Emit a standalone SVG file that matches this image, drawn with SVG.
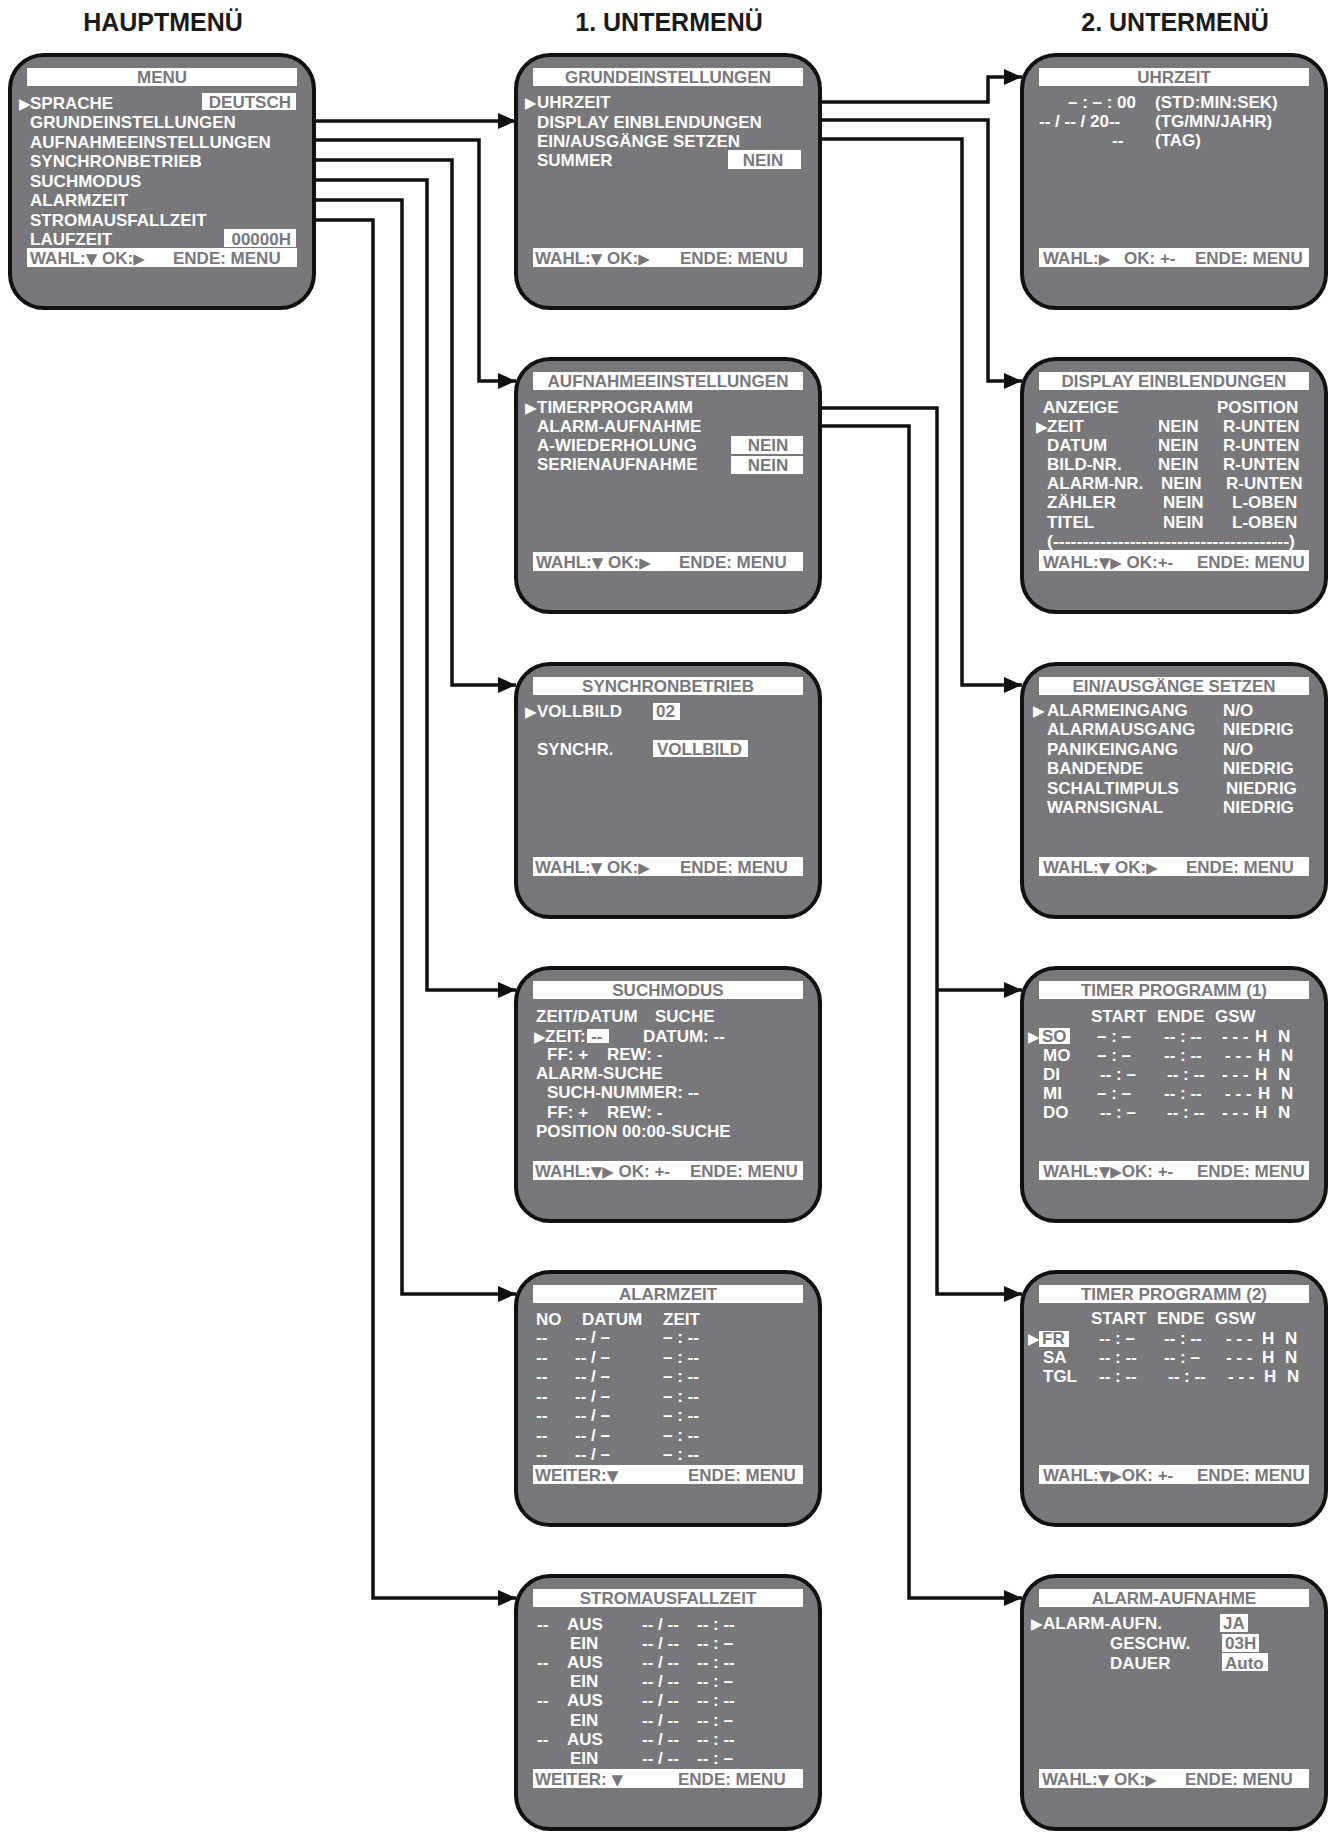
<svg xmlns="http://www.w3.org/2000/svg" width="1342" height="1840" viewBox="0 0 1342 1840">
<defs>
<style>
.box{fill:#78777c;stroke:#111;stroke-width:4}
.bar{fill:#fff}
.t{font-family:"Liberation Sans","DejaVu Sans",Arial,sans-serif;font-weight:bold;font-size:17px;fill:#fff}
.g{fill:#78777c}
.m{text-anchor:middle}
.e{text-anchor:end}
.sym{font-family:"DejaVu Sans",sans-serif;font-size:15px}
.h{font-family:"Liberation Sans",Arial,sans-serif;font-weight:bold;font-size:25px;fill:#1a1a1a;text-anchor:middle}
.c{fill:none;stroke:#111;stroke-width:3.5}
</style>
<marker id="ah" markerUnits="userSpaceOnUse" markerWidth="18" markerHeight="16" refX="18" refY="8" orient="auto">
<path d="M0,0 L18,8 L0,16 z" fill="#111"/>
</marker>
</defs>
<rect width="1342" height="1840" fill="#fff"/>

<g id="headings">
<text class="h" x="163" y="31">HAUPTMENÜ</text>
<text class="h" x="669" y="31">1. UNTERMENÜ</text>
<text class="h" x="1175" y="31">2. UNTERMENÜ</text>
</g>

<g id="connectors">
<path class="c" marker-end="url(#ah)" d="M314,121 H516"/>
<path class="c" marker-end="url(#ah)" d="M314,140 H479 V381 H516"/>
<path class="c" marker-end="url(#ah)" d="M314,160 H452 V685 H516"/>
<path class="c" marker-end="url(#ah)" d="M314,180 H427 V990 H516"/>
<path class="c" marker-end="url(#ah)" d="M314,200 H402 V1294 H516"/>
<path class="c" marker-end="url(#ah)" d="M314,220 H373 V1598 H516"/>
<path class="c" marker-end="url(#ah)" d="M820,102 H988 V77 H1022"/>
<path class="c" marker-end="url(#ah)" d="M820,120 H988 V381 H1022"/>
<path class="c" marker-end="url(#ah)" d="M820,139 H962 V685 H1022"/>
<path class="c" marker-end="url(#ah)" d="M820,408 H937 V1294 H1022"/>
<path class="c" marker-end="url(#ah)" d="M937,990 H1022"/>
<path class="c" marker-end="url(#ah)" d="M818,426 H909 V1598 H1022"/>
</g>

<g id="menu" transform="translate(8,53)">
<rect class="box" x="2" y="2" width="304" height="253" rx="34"/>
<rect class="bar" x="19" y="15" width="270" height="18"/>
<text class="t g m" x="154" y="30">MENU</text>
<rect class="bar" x="194" y="40" width="94" height="17"/>
<rect class="bar" x="216" y="176" width="72" height="18"/>
<text class="t" y="55.5"><tspan class="sym" x="11">▶</tspan><tspan x="22">SPRACHE</tspan></text>
<text class="t g e" x="283" y="55">DEUTSCH</text>
<text class="t" x="22" y="75">GRUNDEINSTELLUNGEN</text>
<text class="t" x="22" y="94.5">AUFNAHMEEINSTELLUNGEN</text>
<text class="t" x="22" y="114">SYNCHRONBETRIEB</text>
<text class="t" x="22" y="133.5">SUCHMODUS</text>
<text class="t" x="22" y="153">ALARMZEIT</text>
<text class="t" x="22" y="172.5">STROMAUSFALLZEIT</text>
<text class="t" x="22" y="192">LAUFZEIT</text>
<text class="t g e" x="283" y="192">00000H</text>
<rect class="bar" x="19" y="195" width="270" height="19"/>
<text class="t g" x="22" y="211">WAHL:<tspan class="sym">▼</tspan> OK:<tspan class="sym">▶</tspan><tspan x="165">ENDE: MENU</tspan></text>
</g>

<g id="grundeinstellungen" transform="translate(514,53)">
<rect class="box" x="2" y="2" width="304" height="253" rx="34"/>
<rect class="bar" x="19" y="15" width="270" height="18"/>
<text class="t g m" x="154" y="30">GRUNDEINSTELLUNGEN</text>
<text class="t" y="55.3"><tspan class="sym" x="11">▶</tspan><tspan x="23">UHRZEIT</tspan></text>
<text class="t" x="23" y="74.7">DISPLAY EINBLENDUNGEN</text>
<text class="t" x="23" y="93.7">EIN/AUSGÄNGE SETZEN</text>
<text class="t" x="23" y="113">SUMMER</text>
<rect class="bar" x="214" y="97" width="73" height="19"/>
<text class="t g m" x="249" y="113">NEIN</text>
<rect class="bar" x="19" y="195" width="270" height="19"/>
<text class="t g" x="21" y="211">WAHL:<tspan class="sym">▼</tspan> OK:<tspan class="sym">▶</tspan><tspan x="166">ENDE: MENU</tspan></text>
</g>

<g id="aufnahmeeinstellungen" transform="translate(514,357)">
<rect class="box" x="2" y="2" width="304" height="253" rx="34"/>
<rect class="bar" x="19" y="15" width="270" height="18"/>
<text class="t g m" x="154" y="30">AUFNAHMEEINSTELLUNGEN</text>
<text class="t" y="55.7"><tspan class="sym" x="11">▶</tspan><tspan x="23">TIMERPROGRAMM</tspan></text>
<text class="t" x="23" y="74.7">ALARM-AUFNAHME</text>
<text class="t" x="23" y="94">A-WIEDERHOLUNG</text>
<text class="t" x="23" y="113">SERIENAUFNAHME</text>
<rect class="bar" x="217" y="79" width="72" height="18"/>
<rect class="bar" x="217" y="99" width="72" height="18"/>
<text class="t g m" x="254" y="94">NEIN</text>
<text class="t g m" x="254" y="113.5">NEIN</text>
<rect class="bar" x="19" y="195" width="270" height="19"/>
<text class="t g" x="22" y="211">WAHL:<tspan class="sym">▼</tspan> OK:<tspan class="sym">▶</tspan><tspan x="165">ENDE: MENU</tspan></text>
</g>

<g id="synchronbetrieb" transform="translate(514,662)">
<rect class="box" x="2" y="2" width="304" height="253" rx="34"/>
<rect class="bar" x="19" y="15" width="270" height="18"/>
<text class="t g m" x="154" y="30">SYNCHRONBETRIEB</text>
<text class="t" y="54.7"><tspan class="sym" x="11">▶</tspan><tspan x="23">VOLLBILD</tspan></text>
<rect class="bar" x="139" y="41" width="27" height="17"/>
<text class="t g" x="142" y="55">02</text>
<text class="t" x="23" y="93">SYNCHR.</text>
<rect class="bar" x="139" y="78" width="95" height="17"/>
<text class="t g" x="143" y="93">VOLLBILD</text>
<rect class="bar" x="19" y="195" width="270" height="19"/>
<text class="t g" x="21" y="211">WAHL:<tspan class="sym">▼</tspan> OK:<tspan class="sym">▶</tspan><tspan x="166">ENDE: MENU</tspan></text>
</g>

<g id="suchmodus" transform="translate(514,966)">
<rect class="box" x="2" y="2" width="304" height="253" rx="34"/>
<rect class="bar" x="19" y="15" width="270" height="18"/>
<text class="t g m" x="154" y="30">SUCHMODUS</text>
<text class="t" y="55.7"><tspan x="22">ZEIT/DATUM</tspan><tspan x="141">SUCHE</tspan></text>
<text class="t" y="75.7"><tspan class="sym" x="20">▶</tspan><tspan x="31">ZEIT:</tspan></text>
<rect class="bar" x="73" y="63" width="22" height="14"/>
<text class="t g" x="77" y="75.7">--</text>
<text class="t" x="129" y="75.7">DATUM: --</text>
<text class="t" y="94"><tspan x="33">FF: +</tspan><tspan x="93">REW: -</tspan></text>
<text class="t" x="22" y="113">ALARM-SUCHE</text>
<text class="t" x="33" y="132">SUCH-NUMMER: --</text>
<text class="t" y="152"><tspan x="33">FF: +</tspan><tspan x="93">REW: -</tspan></text>
<text class="t" y="170.7"><tspan x="22">POSITION</tspan><tspan x="108">00:00-SUCHE</tspan></text>
<rect class="bar" x="19" y="195" width="270" height="19"/>
<text class="t g" x="21" y="211">WAHL:<tspan class="sym">▼▶</tspan> OK: +-<tspan x="176">ENDE: MENU</tspan></text>
</g>

<g id="alarmzeit" transform="translate(514,1270)">
<rect class="box" x="2" y="2" width="304" height="253" rx="34"/>
<rect class="bar" x="19" y="15" width="270" height="18"/>
<text class="t g m" x="154" y="30">ALARMZEIT</text>
<text class="t" y="55"><tspan x="22">NO</tspan><tspan x="68">DATUM</tspan><tspan x="149">ZEIT</tspan></text>
<text class="t" y="73.3"><tspan x="22">--</tspan><tspan x="61">-- / –</tspan><tspan x="149">– : --</tspan></text>
<text class="t" y="92.8"><tspan x="22">--</tspan><tspan x="61">-- / –</tspan><tspan x="149">– : --</tspan></text>
<text class="t" y="112.3"><tspan x="22">--</tspan><tspan x="61">-- / –</tspan><tspan x="149">– : --</tspan></text>
<text class="t" y="131.8"><tspan x="22">--</tspan><tspan x="61">-- / –</tspan><tspan x="149">– : --</tspan></text>
<text class="t" y="151.3"><tspan x="22">--</tspan><tspan x="61">-- / –</tspan><tspan x="149">– : --</tspan></text>
<text class="t" y="170.8"><tspan x="22">--</tspan><tspan x="61">-- / –</tspan><tspan x="149">– : --</tspan></text>
<text class="t" y="190"><tspan x="22">--</tspan><tspan x="61">-- / –</tspan><tspan x="149">– : --</tspan></text>
<rect class="bar" x="19" y="195" width="270" height="19"/>
<text class="t g" x="21" y="211">WEITER:<tspan class="sym">▼</tspan><tspan x="174">ENDE: MENU</tspan></text>
</g>

<g id="stromausfallzeit" transform="translate(514,1574)">
<rect class="box" x="2" y="2" width="304" height="253" rx="34"/>
<rect class="bar" x="19" y="15" width="270" height="18"/>
<text class="t g m" x="154" y="30">STROMAUSFALLZEIT</text>
<text class="t" y="56"><tspan x="23">--</tspan><tspan x="53">AUS</tspan><tspan x="128">-- / --</tspan><tspan x="183">-- : --</tspan></text>
<text class="t" y="75.1"><tspan x="56">EIN</tspan><tspan x="128">-- / --</tspan><tspan x="183">-- : –</tspan></text>
<text class="t" y="94.2"><tspan x="23">--</tspan><tspan x="53">AUS</tspan><tspan x="128">-- / --</tspan><tspan x="183">-- : --</tspan></text>
<text class="t" y="113.3"><tspan x="56">EIN</tspan><tspan x="128">-- / --</tspan><tspan x="183">-- : –</tspan></text>
<text class="t" y="132.4"><tspan x="23">--</tspan><tspan x="53">AUS</tspan><tspan x="128">-- / --</tspan><tspan x="183">-- : --</tspan></text>
<text class="t" y="151.5"><tspan x="56">EIN</tspan><tspan x="128">-- / --</tspan><tspan x="183">-- : –</tspan></text>
<text class="t" y="170.6"><tspan x="23">--</tspan><tspan x="53">AUS</tspan><tspan x="128">-- / --</tspan><tspan x="183">-- : --</tspan></text>
<text class="t" y="189.7"><tspan x="56">EIN</tspan><tspan x="128">-- / --</tspan><tspan x="183">-- : –</tspan></text>
<rect class="bar" x="19" y="195" width="270" height="19"/>
<text class="t g" x="21" y="211">WEITER: <tspan class="sym">▼</tspan><tspan x="164">ENDE: MENU</tspan></text>
</g>

<g id="uhrzeit" transform="translate(1020,53)">
<rect class="box" x="2" y="2" width="304" height="253" rx="34"/>
<rect class="bar" x="19" y="15" width="270" height="18"/>
<text class="t g m" x="154" y="30">UHRZEIT</text>
<text class="t" y="55"><tspan x="48">– : – : 00</tspan><tspan x="135">(STD:MIN:SEK)</tspan></text>
<text class="t" y="74"><tspan x="19">-- / -- / 20--</tspan><tspan x="135">(TG/MN/JAHR)</tspan></text>
<text class="t" y="93"><tspan x="92">--</tspan><tspan x="135">(TAG)</tspan></text>
<rect class="bar" x="19" y="195" width="270" height="19"/>
<text class="t g" x="23" y="211">WAHL:<tspan class="sym">▶</tspan><tspan x="104">OK: +-</tspan><tspan x="175">ENDE: MENU</tspan></text>
</g>

<g id="display-einblendungen" transform="translate(1020,357)">
<rect class="box" x="2" y="2" width="304" height="253" rx="34"/>
<rect class="bar" x="19" y="15" width="270" height="18"/>
<text class="t g m" x="154" y="30">DISPLAY EINBLENDUNGEN</text>
<text class="t" y="55.7"><tspan x="23">ANZEIGE</tspan><tspan x="197">POSITION</tspan></text>
<text class="t" y="74.7"><tspan class="sym" x="16">▶</tspan><tspan x="27">ZEIT</tspan><tspan x="138">NEIN</tspan><tspan x="203">R-UNTEN</tspan></text>
<text class="t" y="93.7"><tspan x="27">DATUM</tspan><tspan x="138">NEIN</tspan><tspan x="203">R-UNTEN</tspan></text>
<text class="t" y="113"><tspan x="27">BILD-NR.</tspan><tspan x="138">NEIN</tspan><tspan x="203">R-UNTEN</tspan></text>
<text class="t" y="132"><tspan x="27">ALARM-NR.</tspan><tspan x="141">NEIN</tspan><tspan x="206">R-UNTEN</tspan></text>
<text class="t" y="151"><tspan x="27">ZÄHLER</tspan><tspan x="143">NEIN</tspan><tspan x="212">L-OBEN</tspan></text>
<text class="t" y="170.7"><tspan x="27">TITEL</tspan><tspan x="143">NEIN</tspan><tspan x="212">L-OBEN</tspan></text>
<text class="t" x="27" y="189.7" textLength="248" lengthAdjust="spacingAndGlyphs">(----------------------------------------)</text>
<rect class="bar" x="19" y="193" width="270" height="21"/>
<text class="t g" x="23" y="211">WAHL:<tspan class="sym">▼▶</tspan> OK:+-<tspan x="177">ENDE: MENU</tspan></text>
</g>

<g id="ein-ausgaenge-setzen" transform="translate(1020,662)">
<rect class="box" x="2" y="2" width="304" height="253" rx="34"/>
<rect class="bar" x="19" y="15" width="270" height="18"/>
<text class="t g m" x="154" y="30">EIN/AUSGÄNGE SETZEN</text>
<text class="t" y="54"><tspan class="sym" x="13">▶</tspan><tspan x="27">ALARMEINGANG</tspan><tspan x="203">N/O</tspan></text>
<text class="t" y="73.4"><tspan x="27">ALARMAUSGANG</tspan><tspan x="203">NIEDRIG</tspan></text>
<text class="t" y="92.8"><tspan x="27">PANIKEINGANG</tspan><tspan x="203">N/O</tspan></text>
<text class="t" y="112.2"><tspan x="27">BANDENDE</tspan><tspan x="203">NIEDRIG</tspan></text>
<text class="t" y="131.6"><tspan x="27">SCHALTIMPULS</tspan><tspan x="206">NIEDRIG</tspan></text>
<text class="t" y="151"><tspan x="27">WARNSIGNAL</tspan><tspan x="203">NIEDRIG</tspan></text>
<rect class="bar" x="19" y="195" width="270" height="19"/>
<text class="t g" x="23" y="211">WAHL:<tspan class="sym">▼</tspan> OK:<tspan class="sym">▶</tspan><tspan x="166">ENDE: MENU</tspan></text>
</g>

<g id="timer-programm-1" transform="translate(1020,966)">
<rect class="box" x="2" y="2" width="304" height="253" rx="34"/>
<rect class="bar" x="19" y="15" width="270" height="18"/>
<text class="t g m" x="154" y="30">TIMER PROGRAMM (1)</text>
<text class="t" y="55.7"><tspan x="71">START</tspan><tspan x="137">ENDE</tspan><tspan x="195">GSW</tspan></text>
<rect class="bar" x="19" y="62" width="31" height="16"/>
<text class="t" y="75.7"><tspan class="sym" x="8">▶</tspan><tspan class="g" x="22">SO</tspan><tspan x="77">– : –</tspan><tspan x="144">-- : --</tspan><tspan x="202">- - -</tspan><tspan x="235">H</tspan><tspan x="258">N</tspan></text>
<text class="t" y="94.8"><tspan x="23">MO</tspan><tspan x="77">– : –</tspan><tspan x="144">-- : --</tspan><tspan x="205">- - -</tspan><tspan x="238">H</tspan><tspan x="261">N</tspan></text>
<text class="t" y="113.9"><tspan x="23">DI</tspan><tspan x="80">-- : –</tspan><tspan x="147">-- : --</tspan><tspan x="202">- - -</tspan><tspan x="235">H</tspan><tspan x="258">N</tspan></text>
<text class="t" y="133"><tspan x="23">MI</tspan><tspan x="77">– : –</tspan><tspan x="144">-- : --</tspan><tspan x="205">- - -</tspan><tspan x="238">H</tspan><tspan x="261">N</tspan></text>
<text class="t" y="152.1"><tspan x="23">DO</tspan><tspan x="80">-- : –</tspan><tspan x="147">-- : --</tspan><tspan x="202">- - -</tspan><tspan x="235">H</tspan><tspan x="258">N</tspan></text>
<rect class="bar" x="19" y="195" width="270" height="19"/>
<text class="t g" x="23" y="211">WAHL:<tspan class="sym">▼▶</tspan>OK: +-<tspan x="177">ENDE: MENU</tspan></text>
</g>

<g id="timer-programm-2" transform="translate(1020,1270)">
<rect class="box" x="2" y="2" width="304" height="253" rx="34"/>
<rect class="bar" x="19" y="15" width="270" height="18"/>
<text class="t g m" x="154" y="30">TIMER PROGRAMM (2)</text>
<text class="t" y="53.5"><tspan x="71">START</tspan><tspan x="137">ENDE</tspan><tspan x="195">GSW</tspan></text>
<rect class="bar" x="19" y="61" width="30" height="16"/>
<text class="t" y="74"><tspan class="sym" x="8">▶</tspan><tspan class="g" x="22">FR</tspan><tspan x="79">-- : –</tspan><tspan x="144">-- : --</tspan><tspan x="206">- - -</tspan><tspan x="242">H</tspan><tspan x="265">N</tspan></text>
<text class="t" y="93"><tspan x="23">SA</tspan><tspan x="79">-- : --</tspan><tspan x="144">-- : –</tspan><tspan x="206">- - -</tspan><tspan x="242">H</tspan><tspan x="265">N</tspan></text>
<text class="t" y="112"><tspan x="23">TGL</tspan><tspan x="79">-- : --</tspan><tspan x="148">-- : --</tspan><tspan x="208">- - -</tspan><tspan x="244">H</tspan><tspan x="267">N</tspan></text>
<rect class="bar" x="19" y="195" width="270" height="19"/>
<text class="t g" x="23" y="211">WAHL:<tspan class="sym">▼▶</tspan>OK: +-<tspan x="177">ENDE: MENU</tspan></text>
</g>

<g id="alarm-aufnahme" transform="translate(1020,1574)">
<rect class="box" x="2" y="2" width="304" height="253" rx="34"/>
<rect class="bar" x="19" y="15" width="270" height="18"/>
<text class="t g m" x="154" y="30">ALARM-AUFNAHME</text>
<text class="t" y="55"><tspan class="sym" x="11">▶</tspan><tspan x="23">ALARM-AUFN.</tspan></text>
<rect class="bar" x="200" y="40" width="28" height="18"/>
<text class="t g" x="203" y="55">JA</text>
<text class="t" x="90" y="75">GESCHW.</text>
<rect class="bar" x="202" y="60" width="37" height="18"/>
<text class="t g" x="205" y="75">03H</text>
<text class="t" x="90" y="94.5">DAUER</text>
<rect class="bar" x="202" y="79" width="46" height="18"/>
<text class="t g" x="205" y="94.5">Auto</text>
<rect class="bar" x="19" y="195" width="270" height="19"/>
<text class="t g" x="22" y="211">WAHL:<tspan class="sym">▼</tspan> OK:<tspan class="sym">▶</tspan><tspan x="165">ENDE: MENU</tspan></text>
</g>
</svg>
